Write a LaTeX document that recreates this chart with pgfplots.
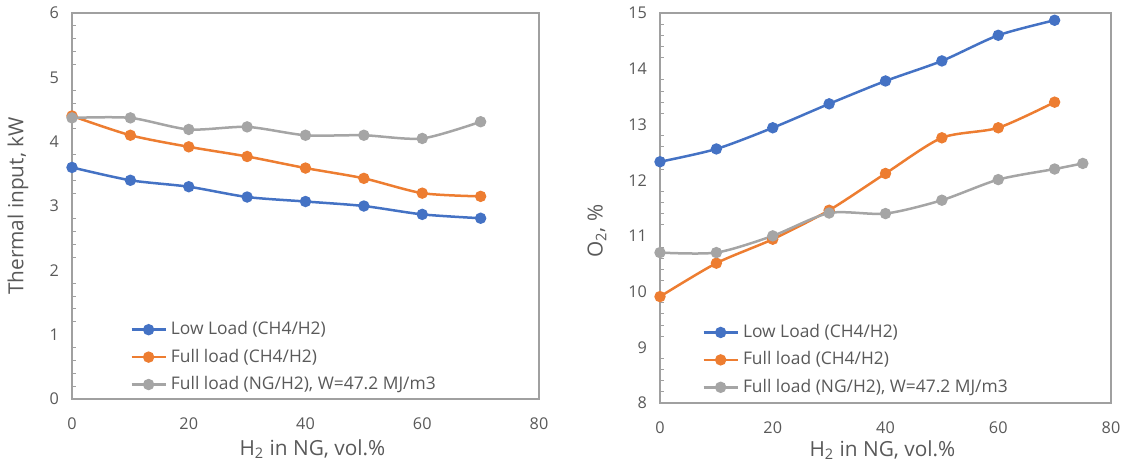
\documentclass[border=0pt]{standalone}
\usepackage{pgfplots}
\pgfplotsset{compat=1.18}
\usepackage{fontspec}
\setmainfont{Open Sans}
\definecolor{xblue}{HTML}{4472C4}
\definecolor{xorange}{HTML}{ED7D31}
\definecolor{xgray}{HTML}{A5A5A5}
\definecolor{txt}{HTML}{595959}
\definecolor{frame}{HTML}{A0A0A0}
\pgfplotsset{
  common/.style={
    scale only axis,
    axis line style={frame, line width=0.9pt},
    xmin=0, xmax=80, xtick={0,20,...,80},
    major tick length=0pt,
    minor tick length=2pt,
    minor y tick num=4,
    minor x tick num=0,
    tick style={frame, line width=0.5pt},
    tick align=inside,
    xtick pos=bottom, ytick pos=left,
    ticklabel style={font=\fontsize{8.1}{10}\selectfont, text=txt},
    /pgf/number format/assume math mode=true,
    xticklabel style={yshift=-6pt},
    yticklabel style={xshift=-3pt},
    label style={font=\fontsize{10.4}{12}\selectfont, text=txt},
    ylabel style={at={(axis description cs:0,0.5)}, anchor=center},
    legend style={draw=none, fill=none, font=\fontsize{8.7}{10.5}\selectfont, text=txt,
      row sep=1.6pt, inner sep=0pt, cells={anchor=west}},
    legend cell align=left,
    every axis plot/.append style={line width=1.25pt, mark=*, mark size=2.2pt, smooth, tension=0.45},
  },
}
\begin{document}
\begin{tikzpicture}
\path[use as bounding box] (0,0) rectangle (563.5pt,231.5pt);
\begin{axis}[common,
  at={(36pt,32pt)}, anchor=south west,
  width=233.5pt, height=193pt,
  ymin=0, ymax=6, ytick={0,1,...,6},
  xlabel={H\textsubscript{2} in NG, vol.\%},
  xlabel style={at={(axis description cs:0.5,0)}, anchor=base, yshift=-28pt, xshift=3.5pt},
  ylabel={Thermal input, kW},
  ylabel style={yshift=27pt},
  legend style={at={(axis description cs:0.124,0.212)}, anchor=north west},
]
\addplot[xblue, mark options={fill=xblue, draw=xblue}] coordinates {
(0,3.60) (10,3.40) (20,3.30) (30,3.14) (40,3.07) (50,3.00) (60,2.87) (70,2.81)};
\addlegendentry{Low Load (CH4/H2)}
\addplot[xorange, mark options={fill=xorange, draw=xorange}] coordinates {
(0,4.40) (10,4.10) (20,3.92) (30,3.77) (40,3.59) (50,3.43) (60,3.20) (70,3.15)};
\addlegendentry{Full load (CH4/H2)}
\addplot[xgray, mark options={fill=xgray, draw=xgray}] coordinates {
(0,4.37) (10,4.37) (20,4.19) (30,4.23) (40,4.10) (50,4.10) (60,4.05) (70,4.31)};
\addlegendentry{Full load (NG/H2), W=47.2 MJ/m3}
\end{axis}
\begin{axis}[common,
  at={(330pt,30pt)}, anchor=south west,
  width=225.5pt, height=195pt,
  ymin=8, ymax=15, ytick={8,9,...,15},
  xlabel={H\textsubscript{2} in NG, vol.\%},
  xlabel style={at={(axis description cs:0.5,0)}, anchor=base, yshift=-26.5pt, xshift=-1.5pt},
  ylabel={O\textsubscript{2}, \%},
  ylabel style={at={(axis description cs:0,0.44)}, yshift=31.5pt},
  legend style={at={(axis description cs:0.093,0.213)}, anchor=north west},
]
\addplot[xblue, mark options={fill=xblue, draw=xblue}] coordinates {
(0,12.33) (10,12.56) (20,12.94) (30,13.37) (40,13.78) (50,14.14) (60,14.60) (70,14.87)};
\addlegendentry{Low Load (CH4/H2)}
\addplot[xorange, mark options={fill=xorange, draw=xorange}] coordinates {
(0,9.91) (10,10.51) (20,10.94) (30,11.46) (40,12.12) (50,12.76) (60,12.94) (70,13.40)};
\addlegendentry{Full load (CH4/H2)}
\addplot[xgray, mark options={fill=xgray, draw=xgray}] coordinates {
(0,10.70) (10,10.70) (20,11.00) (30,11.41) (40,11.40) (50,11.64) (60,12.01) (70,12.20) (75,12.30)};
\addlegendentry{Full load (NG/H2), W=47.2 MJ/m3}
\end{axis}
\end{tikzpicture}
\end{document}
